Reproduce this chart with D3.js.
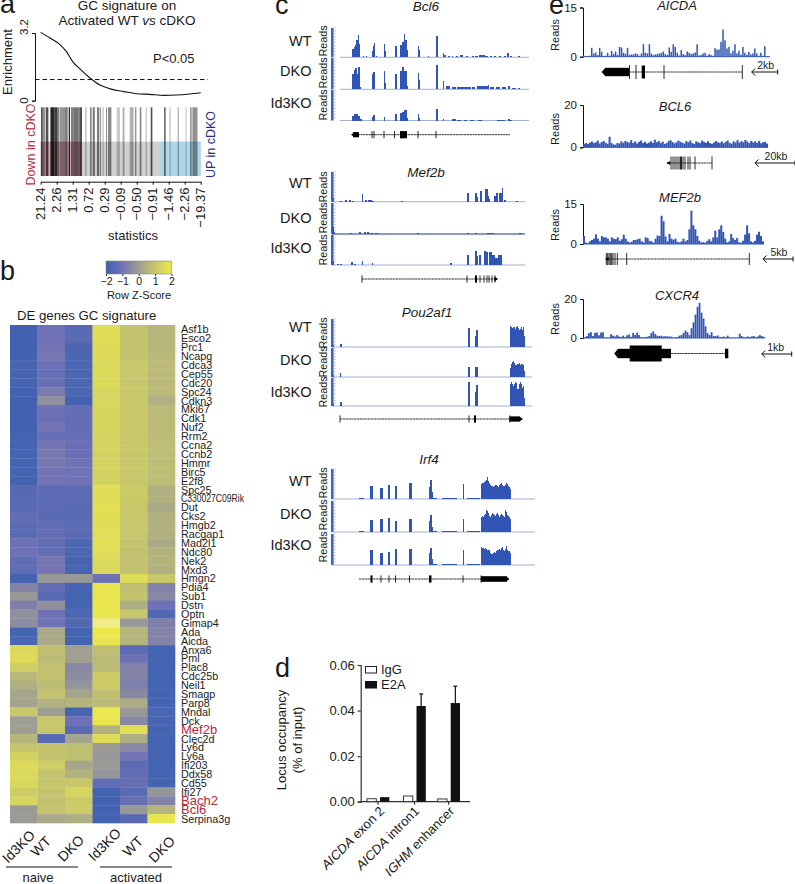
<!DOCTYPE html>
<html><head><meta charset="utf-8">
<script src="https://cdn.jsdelivr.net/npm/d3@7"></script>
<style>html,body{margin:0;padding:0;background:#fff}svg{display:block}text{font-family:"Liberation Sans",Arial,sans-serif;fill:#1a1a1a}</style>
</head><body><svg id="c" width="795" height="884"></svg>
<script>
// ---------- panel a ----------
const enrichRank=[0,5.8,12,16,20,24.5,31,37,43,52,60,68,77,85,93,100];
const enrichVal=[3.23,2.96,2.65,2.33,1.85,1.5,1.06,.74,.57,.43,.33,.30,.25,.27,.32,.38];
const statTicks=["21.24","2.26","1.31","0.72","0.29","\u22120.09","\u22120.50","\u22120.91","\u22121.46","\u22122.26","\u221219.37"];
const barcode=[[0.3,2,.8],[2,4.3,.5],[5,7.7,.8],[9.7,13.7,1],[13.7,16.3,.9],[16.3,18.7,.6],[19.3,22,.5],[22,23.7,.5],[23.7,27,.6],[28,29.3,1],[30.3,33,.6],[33,37.7,.65],[37.7,39.3,.6],[39.3,41.3,.8],[44.7,45.7,.4],[49.7,50.7,.9],[52,53.7,.6],[53.7,54.3,.6],[56.3,58.3,.6],[59,60.3,.5],[62,62.7,.5],[65.3,66.3,.5],[67.3,70.7,.55],[76,79.3,.25],[82,83.7,.4],[89,91.7,.35],[91.7,92.7,.5],[94.3,95.7,.5],[99,100.7,.55],[105,106,.35],[110,111.7,.8],[123.3,125,.65],[129,129.7,.5],[137,138,.5],[145,145.7,.4],[149.7,150.7,.8],[151.7,155.7,.5],[155.7,156.7,.6]];
// ---------- panel b ----------
const zTicks=[-2,-1,0,1,2];
const genes=["Asf1b","Esco2","Prc1","Ncapg","Cdca3","Cep55","Cdc20","Spc24","Cdkn3","Mki67","Cdk1","Nuf2","Rrm2","Ccna2","Ccnb2","Hmmr","Birc5","E2f8","Spc25","C330027C09Rik","Dut","Cks2","Hmgb2","Racgap1","Mad2l1","Ndc80","Nek2","Mxd3","Hmgn2","Pdia4","Sub1","Dstn","Optn","Gimap4","Ada","Aicda","Anxa6","Pml","Plac8","Cdc25b","Neil1","Smagp","Parp8","Mndal","Dck","Mef2b","Clec2d","Ly6d","Ly6a","Ifi203","Ddx58","Cd55","Ifi27","Bach2","Bcl6","Serpina3g"];
const redGenes=["Mef2b","Bach2","Bcl6"];
const conditions=["Id3KO","WT","DKO","Id3KO","WT","DKO"];
const zscores=[[-1.9,-1.1,-1.5,1.65,.9,.6],[-1.9,-1.1,-1.4,1.65,.9,.6],[-1.9,-1,-1.7,1.6,.9,.6],[-1.9,-.9,-1.7,1.6,.9,.65],[-1.8,-1.15,-1.7,1.55,.95,.7],[-1.8,-1.2,-1.7,1.55,.95,.7],[-1.8,-1.2,-1.7,1.55,.95,.7],[-1.9,-.8,-1.7,1.4,1,.7],[-1.9,-.3,-1.9,1.45,1,.45],[-1.9,-1.1,-1.25,1.4,1,.7],[-1.9,-1.15,-1.3,1.4,1,.7],[-1.9,-.95,-1.3,1.4,1,.7],[-1.85,-1.25,-1.25,1.35,1,.75],[-1.85,-.95,-1.2,1.35,1,.75],[-1.85,-.85,-1.2,1.3,1,.75],[-1.85,-.85,-1.05,1.3,1,.75],[-1.85,-1,-1.05,1.3,1,.75],[-1.85,-1,-1.05,1.3,1,.75],[-1.55,-1.4,-1.4,1.7,1.05,.45],[-1.5,-1.4,-1.4,1.7,1.05,.5],[-1.5,-1.4,-1.45,1.75,1,.3],[-1.3,-1.45,-1.45,1.7,1,.45],[-1.45,-1.35,-1.45,1.7,.95,.45],[-1.45,-1.25,-1.45,1.7,.95,.45],[-1.1,-1.3,-1.7,1.7,.9,.3],[-1.1,-1.3,-1.7,1.65,.85,.5],[-1.35,-.95,-1.8,1.55,.85,.55],[-1.35,-.95,-1.8,1.5,.85,.45],[-1.85,-.1,-.1,-1.1,1.6,1],[-.6,-1.3,-1.8,1.9,.8,-.6],[-.1,-1.45,-1.85,1.9,.9,-.5],[-.7,-.3,-1.85,1.95,.4,-1.1],[-.3,-1.05,-1.65,1.9,1,-1.6],[-.4,-1.05,-1.6,2.3,-.1,-.7],[-1.85,.3,-1.85,2,.6,-.6],[-1.75,.3,-1.85,1.9,.55,-.6],[1.5,.8,.1,.8,-1.45,-1.85],[1.6,.7,.1,.7,-1.1,-1.85],[1.2,.85,-.5,.7,-.6,-1.85],[.65,.85,-.4,1.1,-.6,-1.85],[.4,.75,-.2,1.1,-.7,-1.85],[.2,.9,.2,.8,-.5,-1.85],[.15,.45,.55,.7,.35,-1.85],[1,.05,-1.8,1.95,-.1,-1.75],[.05,1,-1.1,1.95,-.5,-1.8],[.05,.95,-1.5,.5,1.7,-1.85],[.6,-1.5,.15,1.6,.4,-1.85],[.9,.9,.8,0,-.5,-1.85],[1.3,.9,.8,-.1,-1,-1.85],[1.55,1.2,.2,-.05,-1.4,-1.85],[1.55,.9,.5,-.2,-1.35,-1.85],[1.5,.95,1,-1.3,-1.25,-1.85],[1.15,.9,1.4,-1.9,-1.45,-.15],[1.4,.85,1.1,-1.9,-1.2,-.6],[-.05,.9,1.1,-1.9,-.1,.55],[-.05,.3,.4,-1.9,-1.5,1.9]];
// ---------- panel c: read coverage segments [start, end, height %]; blocks are per-unit heights ----------
const steps=(s,hs)=>hs.map((h,i)=>[s+i,s+i+1,h]);
const bcl6WT=[[20,21.5,30],[21.5,23,35],[23,24,42],[24,25.5,60],[25.5,27,75],[27,28,45],[31,32,3],[34,35,3],[40,41,22],[41,42,40],[42,43,50],[44,45,4],[52,53,45],[53,54,20],[63,65,40],[68,70,42],[70,72,52],[72,73,78],[73,75,58],[75,76,25],[86,87,40],[87,88,25],[96,97,4],[104,106,72],[111,112,15],[112,114,8],[116,118,5],[120,121,6],[124,126,5],[128,131,7],[134,136,5],[140,142,4],[143,146,5],[147,150,8],[150,153,9],[153,156,6],[158,160,5],[162,164,6],[167,169,4],[172,174,6],[175,177,13],[178,180,4],[186,188,4]];
const bcl6DKO=[[20,22,50],[22,23,62],[23,25,68],[25,26,50],[26,28,70],[28,29,6],[40,41,48],[41,43,54],[52,53,58],[53,54,20],[63,65,50],[68,70,60],[70,72,72],[72,75,58],[75,76,12],[86,87,52],[87,88,30],[104,106,78],[111,112,27],[114,116,10],[116,118,12],[120,124,8],[125,130,8],[130,135,8],[135,139,7],[140,143,7],[145,150,9],[150,156,10],[156,157,15],[158,162,7],[164,168,8],[170,174,8],[176,178,9],[180,184,5],[186,188,4]];
const bcl6Id3=[[20,22,15],[22,24,20],[24,26,22],[26,28,15],[28,30,5],[40,41,10],[41,43,18],[52,53,12],[63,65,22],[68,70,25],[70,72,28],[72,75,35],[75,76,8],[86,87,20],[87,88,8],[104,106,37],[111,112,5],[120,124,5],[125,129,3],[132,135,3],[138,142,3],[146,150,3],[165,170,3],[170,173,3],[176,178,6],[178,180,3]];
const mef2bWT=[[0,2,12],[8,10,3],[13,15,5],[17,19,5],[20,22,4],[29.5,30.5,25],[33,35,5],[36,40,6],[40,42,4],[69,71,4],[135,137,30],[143,145,30],[145,146,15],[148,150,35],[153,156,42],[156,157,20],[157,158,8],[162,164,20],[164,166,28],[167,170,30],[170,171,45],[172,174,6],[184,186,3]];
const mef2bDKO=[[0,2,22],[2,3,6],[18,20,3],[27,29,8],[32,34,6],[35,37,8],[38,41,4],[43,46,2],[85,87,2],[135,137,2],[143,145,3],[155,158,2],[158,162,3],[187,190,2]];
const mef2bId3=[[0,2,12],[5,7,5],[8,10,3],[19,21,9],[22,24,3],[29.5,30.5,15],[40,41,6],[118,120,6],[135,137,33],[143,145,48],[145,146,30],[147,149,33],[152,154,48],[154,156,45],[157,160,42],[160,163,35],[163,166,25],[166,170,32]];
const pouWT=[[0,2,6],[8,9.5,12],[136,138.3,68],[143,144,40],[144,146,62],...steps(178,[75,72,68,72,70,65,70,75,68,60,65,72,62,70,40])];
const pouDKO=[[0,2,6],[8,9,14],[136,138.3,35],[143,146,33],...steps(178,[30,45,52,55,48,42,42,46,44,48,42,46,44,40,20])];
const pouId3=[[0,2,6],[8,10,14],[136,138.3,85],[143,144,50],[144,146,75],...steps(178,[78,84,80,72,78,85,82,62,60,78,84,80,66,72,30])];
const irf4WT=[[27,32,3],[38,40.5,43],[48,50.5,38],[56,58,48],[63,65,42],[77,79.5,52],[96.5,97.5,40],[97.5,100,62],[100,101,22],[101,105,3],[110,125,2],[130.5,132,50],[135,148,2],...steps(149,[50,52,55,58,60,65,72,60,52,46,44,42,40,44,48,46,42,40,46,50,54,48,44,42,48,52,50,44,40,35])];
const irf4DKO=[[27,32,3],[38,40.5,38],[48,50.5,43],[56,58,45],[63,65,36],[77,79.5,43],[96.5,97.5,35],[97.5,100,55],[100,101,15],[101,105,3],[110,125,2],[130.5,132,42],[135,148,3],...steps(149,[50,52,50,56,58,72,68,60,52,50,56,62,58,54,52,58,60,54,50,54,58,56,52,50,72,66,54,52,48,42])];
const irf4Id3=[[22,38,1],[38,40.5,50],[48,50.5,40],[56,58,42],[63,65,52],[77,79.5,52],[96.5,97.5,40],[97.5,100,55],[100,101,18],[101,105,3],[110,125,2],[130.5,132,50],[135,148,3],...steps(149,[58,54,56,52,55,52,50,50,48,40,36,34,38,42,40,46,50,48,52,48,54,58,50,46,52,60,48,46,44,40])];
// ---------- panel c: gene models ----------
const modelBcl6={line:[20,178],blocks:[[21,27,2.6],[68,75,3.6]],ticks:[40,42,52,62.5,86,104],arrow:[19,"left",2.6]};
const modelMef2b={line:[30,165],blocks:[[143,145,3.6]],ticks:[30,135,148,152,155,157,160,163],arrow:[166,"right",2.4]};
const modelPou={line:[8,178],blocks:[[142,144,3.6],[177.7,188,2.6]],ticks:[8,137,177.7],arrow:[191,"right",2.6]};
const modelIrf4={line:[27,149],blocks:[[38.5,40.5,3.6],[97,99.5,3.6],[149,175,2.8]],ticks:[49,57,63.5,77.5,131,149],arrow:[177.5,"right",2.8]};
// ---------- panel d ----------
const loci=["exon 2","intron1","enhancer"];
const lociPrefix=["AICDA","AICDA","IGHM"];
const iggVals=[.0013,.0025,.0012];
const e2aVals=[.002,.042,.0433];
const e2aErr=[0,.0053,.0074];
// ---------- panel e: reads per bin ----------
const aicdaReads=[.3,.2,.2,.3,2.7,1,1.3,.5,2.7,1.5,.2,.3,1.2,.3,1.8,.8,1.6,.6,3,2.8,1.2,.9,2.7,.6,.7,.7,1,.8,.3,1,3.8,1.2,1,3.8,1,.5,.7,.8,1,1.2,1.6,.8,.5,2.8,1.5,3.8,3,1.2,.4,2,.8,.5,1.6,1.2,.8,1,1.3,3.8,.4,.5,1,1.2,.3,.8,.5,.3,2.6,2.2,2.2,4.5,8.3,5,2.5,3,1,1.8,3.8,1,1.8,.6,3,1.2,.6,1.5,.7,1,2.5,1,.3,1.2,.3,3.2,.2,.1];
const bcl6Reads=[1.5,2,1.6,2.2,2.8,2,2.4,3.2,1.8,2.5,3,2.2,1.6,5,2,1.4,1.2,2,1.8,2.8,2.2,3,2.5,2.2,3.4,2,2.8,1.8,2.6,3.2,2,2.6,1.8,2.2,2.9,2.1,3.6,2.4,3,2,2.7,1.6,2,2.9,3.4,2.5,1.9,2.4,3.2,2.6,2.2,1.8,2.9,2.4,3.2,2,1.6,2.8,2.4,2,3.2,2.6,2.1,2.9,2,1.6,2.2,3,2.4,2,2.8,1.9,2.6,3.2,2.1,1.7,2.8,2.3,3.4,2.2,2.9,2.4,3.5,2.7,2,3,2.3,2.8,2.1,3,1.9,2.4,2.6,1.8];
const mef2bReads=[3,.5,.3,1,1.5,2,3.6,2,1,3,2.5,2.5,2,1,2.5,2,1.8,2.5,1.2,1.8,3.5,2,1,.6,.8,1.5,1.5,1.8,2,1,.6,2.5,2.2,1.2,1,.5,2,3.2,3,10.6,8.5,2.8,1,3.8,2,1.6,2,.8,.6,1,2,1,1.5,5.5,12.5,7,5.5,3,1.2,.6,.7,.5,1.2,1.8,1,2.5,5,2.5,5.5,7,4.5,2,.6,1,3.8,2.2,1.5,2.2,.6,.5,1.2,3.5,7,4,1,.6,1.2,3.5,4.6,3,1];
const cxcr4Reads=[.3,1,2.5,3,1,2.6,2.8,1.4,2.8,3,.2,.2,.2,2,1.2,.8,1.5,.8,.5,1.2,.5,1.4,1.8,.6,2.6,1.6,2.8,1.5,.4,.4,.5,.6,1,2.5,3.4,2,1.2,1,1.2,.8,1,.8,.8,.7,.2,.3,.5,1.2,1.5,2.5,3.8,3,1.5,5,8,12,16,18,13,10,6,2.5,1.5,3,1,1,1.3,.6,.5,.8,.4,1.2,.3,.2,.2,.2,.2,2.2,1,.4,.3,.8,.5,.8,1,.3,.8,1.5,1,.6];
const eModels={aicda:{line:[94,207.3],blocks:[[70,94,4.2],[106.7,110,6.5]],ticks:[94.5,101,129,207.3],arrow:[66.7,"left",4.2]},
 bcl6:{line:[132,177],blocks:[],ticks:[136,138,140,142,144,146,148,150,153,155,160,177],heavy:[146],arrow:[131.5,"left",2]},
 mef2b:{line:[71,214.3],blocks:[],ticks:[71.3,72.7,74,75.3,76.7,78,80,82.3,91.7,214.3],arrow:[70,"left",2]},
 cxcr4:{line:[136,190],blocks:[[83,136,4.7],[94.7,126.7,8],[190,193.3,4.8]],ticks:[],arrow:[79.3,"left",4.7]}};

const svg=d3.select("#c");
const text=(x,y,s,o={})=>{const t=svg.append("text").attr("x",x).attr("y",y).attr("font-size",o.size||13).text(s);
 if(o.anchor)t.attr("text-anchor",o.anchor);if(o.italic)t.attr("font-style","italic");if(o.fill)t.style("fill",o.fill);
 if(o.rot!=null)t.attr("transform",`rotate(${o.rot} ${x} ${y})`);return t;};
const vline=(x,y1,y2,w,c="#111")=>svg.append("line").attr("x1",x).attr("x2",x).attr("y1",y1).attr("y2",y2).attr("stroke",c).attr("stroke-width",w);
const hline=(x1,x2,y,w,c="#111")=>svg.append("line").attr("x1",x1).attr("x2",x2).attr("y1",y).attr("y2",y).attr("stroke",c).attr("stroke-width",w);
// panel letters
[["a",0,13],["b",0,280],["c",275,14],["d",275,677],["e",549,14]].forEach(d=>text(d[1],d[2],d[0],{size:27}));

// ===== a =====
const ax=d3.scaleLinear().domain([0,100]).range([40.7,200.7]);
const ay=d3.scaleLinear().domain([0,3.2]).range([100.7,33]);
text(127,10,"GC signature on",{anchor:"middle",size:13.5});
const t2=text(127,25,"Activated WT ",{anchor:"middle",size:13.5});
t2.append("tspan").attr("font-style","italic").text("vs");t2.append("tspan").text(" cDKO");
const aL=svg.append("g").attr("transform","translate(35,0)").call(d3.axisLeft(ay).tickValues([0,3.2]).tickSize(3).tickFormat(""));
aL.select(".domain").attr("stroke","#111").attr("stroke-width",1);aL.selectAll("line").attr("stroke","#111");
text(28,27,"3.2",{anchor:"middle",size:11.5,rot:-90});text(28,100.5,"0",{anchor:"middle",size:11.5,rot:-90});
text(11.5,62,"Enrichment",{anchor:"middle",size:13,rot:-90});
svg.append("line").attr("x1",35).attr("x2",208).attr("y1",ay(1)).attr("y2",ay(1)).attr("stroke","#111").attr("stroke-dasharray","4.5 3").attr("stroke-width",1);
svg.append("path").attr("d",d3.line().x(d=>ax(d[0])).y(d=>ay(d[1])).curve(d3.curveMonotoneX)(enrichRank.map((r,i)=>[r,enrichVal[i]]))).attr("fill","none").attr("stroke","#111").attr("stroke-width",1.1);
text(153,63,"P<0.05",{size:13});
const rx=d3.scaleLinear().domain([0,160]).range([40.7,200.7]);
svg.append("rect").attr("x",rx(0)).attr("width",rx(160)-rx(0)).attr("y",141.7).attr("height",34.3).attr("fill","#d0d0d0");
svg.append("rect").attr("x",rx(0)).attr("width",rx(41)-rx(0)).attr("y",141.7).attr("height",34.3).attr("fill","#d2a4ae");
svg.append("rect").attr("x",rx(119.5)).attr("width",rx(160)-rx(119.5)).attr("y",141.7).attr("height",34.3).attr("fill","#add6e8");
svg.selectAll(".bc").data(barcode).join("rect").attr("x",d=>rx(d[0])).attr("width",d=>rx(d[1])-rx(d[0])).attr("y",107.3).attr("height",68.7).attr("fill","#000").attr("opacity",d=>d[2]*.85);
const sx=d3.scalePoint().domain(d3.range(statTicks.length)).range([40.7,200.7]);
const aB=svg.append("g").attr("transform","translate(0,181.7)").call(d3.axisBottom(sx).tickSize(3).tickSizeOuter(0).tickFormat(""));
aB.select(".domain").attr("stroke","#111");aB.selectAll("line").attr("stroke","#111");
statTicks.forEach((s,i)=>text(sx(i)+4.5,187.5,s,{anchor:"end",size:13,rot:-90}));
text(133,240,"statistics",{anchor:"middle",size:13});
text(35,144.5,"Down in cDKO",{anchor:"middle",size:12.5,rot:-90,fill:"#b5303f"});
text(215,144.5,"UP in cDKO",{anchor:"middle",size:12.5,rot:-90,fill:"#2c2c8e"});

// ===== b =====
const zColor=d3.scaleLinear().domain([-2,-1,0,1,2,2.4]).range(["#3c60b0","#7373b6","#9c9c94","#c8c86a","#ece84c","#f2f09a"]);
const kx=d3.scaleLinear().domain([-2,2]).range([106,171.5]);
const defs=svg.append("defs");const lg=defs.append("linearGradient").attr("id","kg");
d3.range(-2,2.01,.5).forEach(v=>lg.append("stop").attr("offset",(v+2)/4).attr("stop-color",zColor(v)));
svg.append("rect").attr("x",106).attr("y",261).attr("width",65.5).attr("height",13).attr("fill","url(#kg)").attr("stroke","#8a8a70").attr("stroke-width",.6);
const kA=svg.append("g").attr("transform","translate(0,274)").call(d3.axisBottom(kx).tickValues(zTicks).tickSize(2).tickFormat(d=>d<0?"\u2212"+(-d):d));
kA.select(".domain").remove();kA.selectAll("line").attr("stroke","#333");kA.selectAll("text").attr("font-size",10.5).attr("dy",".6em").style("font-family","'Liberation Sans'");
text(139,299,"Row Z-Score",{anchor:"middle",size:11});
text(17,319.5,"DE genes GC signature",{size:13.2});
const hx=d3.scaleBand().domain(d3.range(6)).range([10,175]);
const hy=d3.scaleBand().domain(genes).range([325,823]);
const cells=[];zscores.forEach((r,i)=>r.forEach((v,j)=>cells.push({g:genes[i],j,v})));
svg.append("g").selectAll("rect").data(cells).join("rect").attr("x",d=>hx(d.j)).attr("y",d=>hy(d.g)).attr("width",hx.bandwidth()+.3).attr("height",hy.bandwidth()+.3).attr("fill",d=>zColor(d.v));
genes.forEach(g=>{const red=redGenes.includes(g);const t=text(181,hy(g)+hy.bandwidth()/2+(red?4.5:4),g,{size:red?13:10.8,fill:red?"#b8283a":"#222"});
 if(g.length>10)t.attr("textLength",63).attr("lengthAdjust","spacingAndGlyphs");});
const labelEnds=[[36,836],[52,842],[85,841],[122,834],[144,842],[176,842]];
conditions.forEach((c,i)=>text(labelEnds[i][0],labelEnds[i][1],c,{anchor:"end",size:14,rot:-45}));
hline(6,78,867,1);hline(100,172,867,1);
text(38,882,"naive",{anchor:"middle",size:13});text(136,882,"activated",{anchor:"middle",size:13});

// ===== c =====
const cx=d3.scaleLinear().domain([0,200]).range([332,532]);
const blue="#3155b5";
function track(segs,top,base,endU,startU=0,bw=.8){
 const y=d3.scaleLinear().domain([0,100]).range([base,top]);
 svg.append("rect").attr("x",331).attr("y",top).attr("width",2.6).attr("height",base-top).attr("fill","#3f62c0");
 svg.selectAll(null).data(y.ticks(8).slice(1)).join("line").attr("x1",333.6).attr("x2",336).attr("y1",d=>y(d)).attr("y2",d=>y(d)).attr("stroke","#a9b8e2").attr("stroke-width",.7);
 hline(cx(startU),cx(endU),base,bw,"#8c9ac4");
 svg.append("g").attr("shape-rendering","crispEdges").selectAll("rect").data(segs).join("rect").attr("x",d=>cx(d[0])).attr("width",d=>cx(d[1])-cx(d[0])).attr("y",d=>y(d[2])).attr("height",d=>base-y(d[2])).attr("fill",blue);
}
function gene(m,X,y,h=3.6){
 const g=svg.append("g");
 g.append("line").attr("x1",X(m.line[0])).attr("x2",X(m.line[1])).attr("y1",y).attr("y2",y).attr("stroke","#222").attr("stroke-width",.9).attr("stroke-dasharray","2.4 .4");
 m.ticks.forEach(t=>g.append("line").attr("x1",X(t)).attr("x2",X(t)).attr("y1",y-h).attr("y2",y+h).attr("stroke","#111").attr("stroke-width",(m.heavy&&m.heavy.includes(t))?1.8:.9));
 m.blocks.forEach(b=>g.append("rect").attr("x",X(b[0])).attr("width",X(b[1])-X(b[0])).attr("y",y-b[2]).attr("height",2*b[2]).attr("fill","#000"));
 if(m.arrow){const ax0=X(m.arrow[0]),d=m.arrow[1]=="left"?1:-1,ah=m.arrow[2];
  const p=d3.path();p.moveTo(ax0,y);p.lineTo(ax0+d*3.6,y-ah);p.lineTo(ax0+d*3.6,y+ah);p.closePath();
  g.append("path").attr("d",p.toString()).attr("fill","#000");}
}
function panelC(title,tx,ty,rows,model,gy){
 text(tx,ty,title,{anchor:"middle",size:13.5,italic:true});
 rows.forEach(r=>{track(r.d,r.top,r.base,r.end,r.start||0,r.bw);
  text(327,r.rc,"Reads",{anchor:"middle",size:10.8,rot:-90});
  text(311.5,r.lc+5,r.name,{anchor:"end",size:14.5});});
 gene(model,cx,gy);
}
panelC("Bcl6",426,10.5,[{d:bcl6WT,top:28,base:57.3,end:197,start:8,rc:41,lc:41,name:"WT"},{d:bcl6DKO,top:58,base:89.3,end:197,start:8,rc:73,lc:71,name:"DKO"},{d:bcl6Id3,top:90,base:120.5,end:197,start:8,rc:105,lc:103,name:"Id3KO"}],modelBcl6,134.7);
panelC("Mef2b",426,177,[{d:mef2bWT,top:172,base:201.7,end:193,rc:187,lc:183,name:"WT"},{d:mef2bDKO,top:203,base:234,end:193,rc:218,lc:218,name:"DKO",bw:1.8},{d:mef2bId3,top:235,base:265,end:193,rc:250,lc:248,name:"Id3KO"}],modelMef2b,279);
panelC("Pou2af1",427,317,[{d:pouWT,top:319,base:347,end:200,rc:333,lc:327,name:"WT"},{d:pouDKO,top:348,base:377,end:200,rc:362,lc:360,name:"DKO"},{d:pouId3,top:378,base:406,end:200,rc:392,lc:392,name:"Id3KO"}],modelPou,419);
panelC("Irf4",429,464,[{d:irf4WT,top:469,base:499,end:203,rc:483,lc:481,name:"WT"},{d:irf4DKO,top:501,base:532,end:203,rc:515,lc:514,name:"DKO"},{d:irf4Id3,top:534,base:565,end:203,rc:547,lc:545,name:"Id3KO"}],modelIrf4,579);

// ===== d =====
const dy=d3.scaleLinear().domain([0,.06]).range([801.7,665]);
const dL=svg.append("g").attr("transform","translate(360.7,0)").call(d3.axisLeft(dy).tickValues([0,.02,.04,.06]).tickSize(3).tickFormat(d3.format(".2f")));
dL.select(".domain").attr("stroke","#333").attr("stroke-width",1.2);dL.selectAll("line").attr("stroke","#333").attr("stroke-width",1.2);
dL.selectAll("text").attr("font-size",13).style("font-family","'Liberation Sans'");
const centers=[378,414.5,448.7];
const dB=svg.append("g").attr("transform","translate(0,801.7)");
dB.append("line").attr("x1",360).attr("x2",470).attr("stroke","#333").attr("stroke-width",1.2);
centers.forEach(c=>dB.append("line").attr("x1",c).attr("x2",c).attr("y1",0).attr("y2",3).attr("stroke","#333").attr("stroke-width",1.2));
const barW=9.3;
const labelX=[385,420,455];
loci.forEach((l,i)=>{const c=centers[i];
 const ig=c-11,ex=c+2;
 svg.append("rect").attr("x",ig).attr("width",barW).attr("y",dy(iggVals[i])).attr("height",dy(0)-dy(iggVals[i])).attr("fill","#fff").attr("stroke","#222").attr("stroke-width",.9);
 svg.append("rect").attr("x",ex).attr("width",barW).attr("y",dy(e2aVals[i])).attr("height",dy(0)-dy(e2aVals[i])).attr("fill","#111");
 if(e2aErr[i]>0){const t=dy(e2aVals[i]+e2aErr[i]);vline(ex+barW/2,t,dy(e2aVals[i]),1.2);hline(ex+barW/2-2,ex+barW/2+2,t,1.2);}
 const te=text(labelX[i],812,lociPrefix[i],{anchor:"end",size:13,italic:true,rot:-45});
 te.append("tspan").attr("font-style","normal").text(" "+l);
});
svg.append("rect").attr("x",365.5).attr("y",666.5).attr("width",11).attr("height",6.5).attr("fill","#fff").attr("stroke","#222");
svg.append("rect").attr("x",365).attr("y",681).attr("width",12).attr("height",7.5).attr("fill","#111");
text(381,674,"IgG",{size:13});text(381,689,"E2A",{size:13});
text(286,740,"Locus occupancy",{anchor:"middle",size:13,rot:-90});
text(302,740,"(% of input)",{anchor:"middle",size:13,rot:-90});

// ===== e =====
const gx=d3.scaleLinear().domain([0,260]).range([535,795]);
function panelE(o){
 const bx=d3.scaleLinear().domain([0,o.reads.length]).range([o.x0,o.x1]);
 const by=d3.scaleLinear().domain([0,o.max]).range([o.base,o.top]);
 const a=svg.append("g").attr("transform","translate(583,0)").call(d3.axisLeft(by).tickValues([0,o.max]).tickSize(3));
 a.select(".domain").attr("stroke","#111").attr("stroke-width",1);a.selectAll("line").attr("stroke","#111");
 a.selectAll("text").attr("font-size",11.5).style("font-family","'Liberation Sans'");
 text(o.tx,o.ty,o.title,{anchor:"middle",size:13,italic:true});
 text(559,o.rc,"Reads",{anchor:"middle",size:11,rot:-90});
 hline(583,o.x1,o.base,1,blue);
 svg.append("g").selectAll("rect").data(o.reads).join("rect").attr("x",(d,i)=>bx(i)).attr("width",o.w).attr("y",d=>by(d)).attr("height",d=>o.base-by(d)).attr("fill",blue);
 gene(o.model,gx,o.gy,o.h);
 const s=o.scale;hline(s[0],s[1],s[2],1,"#111");vline(s[1],s[2]-2.5,s[2]+2.5,1);
 svg.append("path").attr("d",`M${s[0]+3.5} ${s[2]-3.5}L${s[0]} ${s[2]}L${s[0]+3.5} ${s[2]+3.5}`).attr("fill","none").attr("stroke","#111");
 text((s[0]+s[1])/2+s[4],s[2]-3,s[3],{anchor:"middle",size:10.5});
}
panelE({reads:aicdaReads,max:15,top:7.5,base:56.7,x0:583,x1:770,w:1.5,title:"AICDA",tx:677,ty:10,rc:35,model:eModels.aicda,gy:72,h:7,scale:[751.7,777.7,72,"2kb",1]});
panelE({reads:bcl6Reads,max:20,top:105,base:147.3,x0:583,x1:768,w:2,title:"BCL6",tx:675,ty:111,rc:129,model:eModels.bcl6,gy:163,h:6.5,scale:[755,795,163,"20kb",1]});
panelE({reads:mef2bReads,max:15,top:204,base:244,x0:583,x1:764,w:2,title:"MEF2b",tx:680,ty:202,rc:225,model:eModels.mef2b,gy:259,h:6,scale:[763,793,259,"5kb",1]});
panelE({reads:cxcr4Reads,max:20,top:299,base:338,x0:584,x1:765,w:1.8,title:"CXCR4",tx:677,ty:299.5,rc:319,model:eModels.cxcr4,gy:353.5,h:6,scale:[761.7,791.7,354,"1kb",-1]});
</script></body></html>
